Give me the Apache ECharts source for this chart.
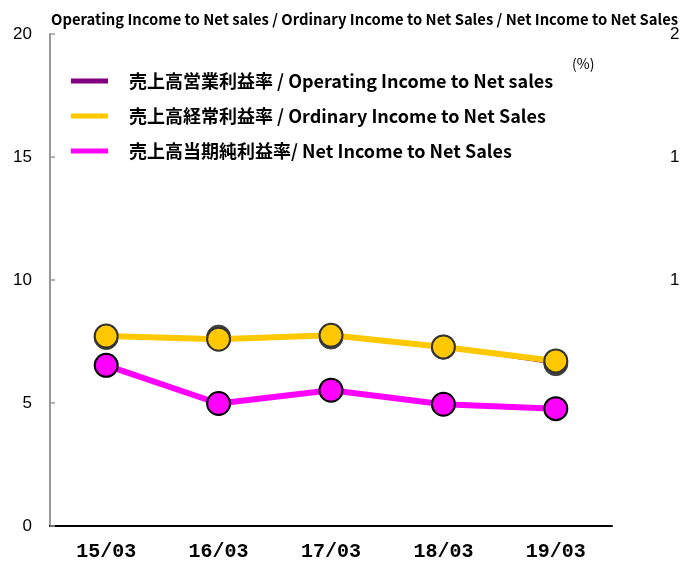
<!DOCTYPE html>
<html>
<head>
<meta charset="UTF-8"/>
<title>売上高利益率</title>
<script src="https://cdn.jsdelivr.net/npm/echarts@6/dist/echarts.min.js"></script>
<style>
html,body{margin:0;padding:0;background:#fff;}
#main{width:680px;height:566px;}
</style>
</head>
<body>
<div id="main"></div>
<script type="text/javascript">
// 決算期
var periods = ['15/03', '16/03', '17/03', '18/03', '19/03'];
// 売上高営業利益率 (%)
var operating = [7.66, 7.68, 7.68, 7.27, 6.60];
// 売上高経常利益率 (%)
var ordinary = [7.72, 7.59, 7.75, 7.28, 6.71];
// 売上高当期純利益率 (%)
var netIncome = [6.53, 4.98, 5.52, 4.95, 4.77];
var yTicks = [0, 5, 10, 15, 20];

var names = [
    '売上高営業利益率 / Operating Income to Net sales',
    '売上高経常利益率 / Ordinary Income to Net Sales',
    '売上高当期純利益率/ Net Income to Net Sales'
];
var jp = '"Noto Sans CJK JP", sans-serif';

var myChart = echarts.init(document.getElementById('main'));

var option = {
    animation: false,
    title: [
        {
            text: 'Operating Income to Net sales / Ordinary Income to Net Sales / Net Income to Net Sales',
            left: 46, top: 7,
            textStyle: {fontSize: 14.8, fontWeight: 'bold', color: '#000', fontFamily: jp}
        },
        {
            text: '(%)',
            left: 567, top: 52,
            textStyle: {fontSize: 14, fontWeight: 'normal', color: '#000', fontFamily: jp}
        }
    ],
    legend: {
        orient: 'vertical',
        left: 66, top: 67,
        itemWidth: 37, itemHeight: 5,
        itemGap: 17,
        textStyle: {fontSize: 18, fontWeight: 'bold', color: '#000', fontFamily: jp, padding: [0, 0, 0, 16]},
        data: [
            {name: names[0], icon: 'rect', itemStyle: {color: '#800080', borderWidth: 0}},
            {name: names[1], icon: 'rect', itemStyle: {color: '#FFC800', borderWidth: 0}},
            {name: names[2], icon: 'rect', itemStyle: {color: '#FF00FF', borderWidth: 0}}
        ]
    },
    grid: {left: 50, right: 68, top: 34, bottom: 40, outerBoundsMode: 'none'},
    xAxis: {
        type: 'category',
        data: periods,
        boundaryGap: true,
        axisLine: {lineStyle: {color: '#000', width: 2}},
        axisTick: {inside: true, length: 5, lineStyle: {color: '#000', width: 1.5}},
        axisLabel: {
            margin: 16,
            fontSize: 20, fontWeight: 'bold', color: '#000',
            fontFamily: '"Liberation Mono", monospace'
        }
    },
    yAxis: [
        {
            type: 'value',
            min: yTicks[0], max: yTicks[yTicks.length - 1], interval: 5,
            axisLine: {show: true, lineStyle: {color: '#999', width: 2}},
            axisTick: {show: true, inside: true, length: 5, lineStyle: {color: '#999', width: 1.5}},
            splitLine: {show: false},
            axisLabel: {margin: 18, fontSize: 17, color: '#000', fontFamily: '"Liberation Sans", sans-serif'}
        },
        {
            type: 'value',
            position: 'right',
            min: yTicks[0], max: yTicks[yTicks.length - 1], interval: 5,
            axisLine: {show: false},
            axisTick: {show: false},
            splitLine: {show: false},
            axisLabel: {
                margin: 58, fontSize: 17, color: '#000', align: 'left',
                fontFamily: '"Liberation Sans", sans-serif',
                formatter: function (v) { return v >= 10 ? String(v) : ''; }
            }
        }
    ],
    series: [
        {
            name: names[0],
            type: 'line',
            data: operating,
            z: 2,
            symbol: 'circle', symbolSize: 24,
            lineStyle: {color: '#800080', width: 2},
            itemStyle: {color: '#404040', borderColor: '#404040', borderWidth: 1}
        },
        {
            name: names[1],
            type: 'line',
            data: ordinary,
            z: 3,
            symbol: 'circle', symbolSize: 23,
            lineStyle: {color: '#FFC800', width: 6},
            itemStyle: {color: '#FFC800', borderColor: '#333', borderWidth: 2}
        },
        {
            name: names[2],
            type: 'line',
            data: netIncome,
            z: 4,
            symbol: 'circle', symbolSize: 23,
            lineStyle: {color: '#FF00FF', width: 6},
            itemStyle: {color: '#FF00FF', borderColor: '#000', borderWidth: 2}
        }
    ]
};

myChart.setOption(option);
</script>
</body>
</html>
